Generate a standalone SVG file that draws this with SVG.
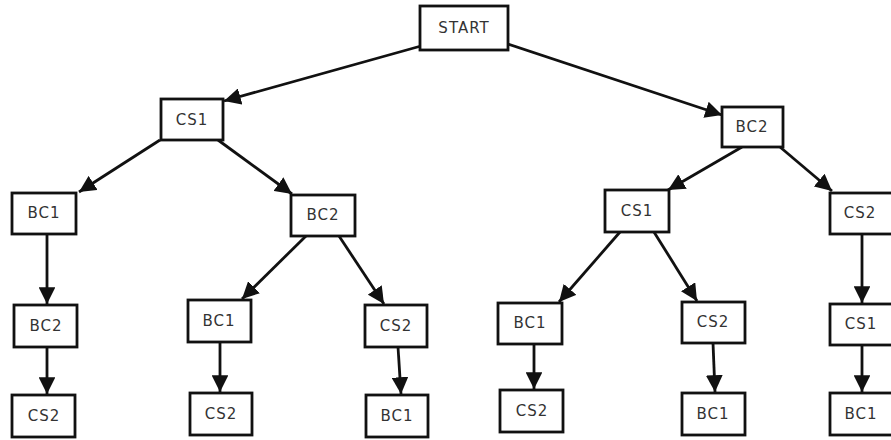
<svg xmlns="http://www.w3.org/2000/svg" width="891" height="440" viewBox="0 0 891 440">
<style>
.box{fill:#fff;stroke:#111;stroke-width:2.8}
.lbl{font-family:"DejaVu Sans",Verdana,sans-serif;font-size:15px;letter-spacing:1px;fill:#333;text-anchor:middle;dominant-baseline:central}
.edge{stroke:#111;stroke-width:2.8;fill:none;marker-end:url(#ah)}
</style>
<defs>
<marker id="ah" viewBox="0 0 10 10" refX="10" refY="5" markerWidth="6" markerHeight="6" markerUnits="strokeWidth" orient="auto">
<path d="M0,0 L10,5 L0,10 z" fill="#111"/>
</marker>
</defs>
<rect width="891" height="440" fill="#fff"/>
<g id="connectors">
<line class="edge" x1="421" y1="46" x2="224" y2="101"/>
<line class="edge" x1="508" y1="44" x2="722" y2="115"/>
<line class="edge" x1="160" y1="140" x2="79" y2="192"/>
<line class="edge" x1="218" y1="140" x2="292" y2="194"/>
<line class="edge" x1="742" y1="147" x2="668" y2="190"/>
<line class="edge" x1="780" y1="147" x2="832" y2="191"/>
<line class="edge" x1="47" y1="234" x2="47" y2="304"/>
<line class="edge" x1="306" y1="236" x2="242" y2="299"/>
<line class="edge" x1="339" y1="236" x2="384" y2="304"/>
<line class="edge" x1="620" y1="232" x2="559" y2="302"/>
<line class="edge" x1="654" y1="232" x2="697" y2="301"/>
<line class="edge" x1="862" y1="234" x2="862" y2="303"/>
<line class="edge" x1="47" y1="347" x2="47" y2="394"/>
<line class="edge" x1="220" y1="342" x2="220" y2="392"/>
<line class="edge" x1="398" y1="347" x2="401" y2="394"/>
<line class="edge" x1="534" y1="344" x2="534" y2="389"/>
<line class="edge" x1="713" y1="343" x2="715" y2="392"/>
<line class="edge" x1="862" y1="345" x2="862" y2="392"/>
</g>
<g id="n_start"><rect class="box" x="420" y="6" width="88" height="44"/><text class="lbl" x="464" y="28">START</text></g>
<g id="n_cs1"><rect class="box" x="161" y="99" width="62" height="41"/><text class="lbl" x="192" y="120">CS1</text></g>
<g id="n_bc2"><rect class="box" x="722" y="107" width="61" height="40"/><text class="lbl" x="752" y="127">BC2</text></g>
<g id="n_cs1_bc1"><rect class="box" x="12" y="193" width="64" height="41"/><text class="lbl" x="44" y="213">BC1</text></g>
<g id="n_cs1_bc2"><rect class="box" x="291" y="195" width="64" height="41"/><text class="lbl" x="323" y="215">BC2</text></g>
<g id="n_bc2_cs1"><rect class="box" x="605" y="190" width="64" height="42"/><text class="lbl" x="637" y="211">CS1</text></g>
<g id="n_bc2_cs2"><rect class="box" x="830" y="193" width="63" height="41"/><text class="lbl" x="860" y="213">CS2</text></g>
<g id="n_l3a"><rect class="box" x="14" y="305" width="63" height="42"/><text class="lbl" x="46" y="326">BC2</text></g>
<g id="n_l3b"><rect class="box" x="188" y="300" width="63" height="42"/><text class="lbl" x="219" y="321">BC1</text></g>
<g id="n_l3c"><rect class="box" x="365" y="305" width="62" height="42"/><text class="lbl" x="396" y="326">CS2</text></g>
<g id="n_l3d"><rect class="box" x="498" y="303" width="64" height="41"/><text class="lbl" x="530" y="323">BC1</text></g>
<g id="n_l3e"><rect class="box" x="682" y="302" width="63" height="41"/><text class="lbl" x="713" y="322">CS2</text></g>
<g id="n_l3f"><rect class="box" x="830" y="304" width="63" height="41"/><text class="lbl" x="861" y="324">CS1</text></g>
<g id="n_l4a"><rect class="box" x="12" y="395" width="63" height="42"/><text class="lbl" x="44" y="416">CS2</text></g>
<g id="n_l4b"><rect class="box" x="190" y="393" width="62" height="42"/><text class="lbl" x="221" y="414">CS2</text></g>
<g id="n_l4c"><rect class="box" x="366" y="395" width="62" height="42"/><text class="lbl" x="397" y="416">BC1</text></g>
<g id="n_l4d"><rect class="box" x="500" y="390" width="63" height="42"/><text class="lbl" x="532" y="411">CS2</text></g>
<g id="n_l4e"><rect class="box" x="682" y="393" width="63" height="42"/><text class="lbl" x="713" y="414">BC1</text></g>
<g id="n_l4f"><rect class="box" x="830" y="393" width="63" height="42"/><text class="lbl" x="861" y="414">BC1</text></g>
</svg>
